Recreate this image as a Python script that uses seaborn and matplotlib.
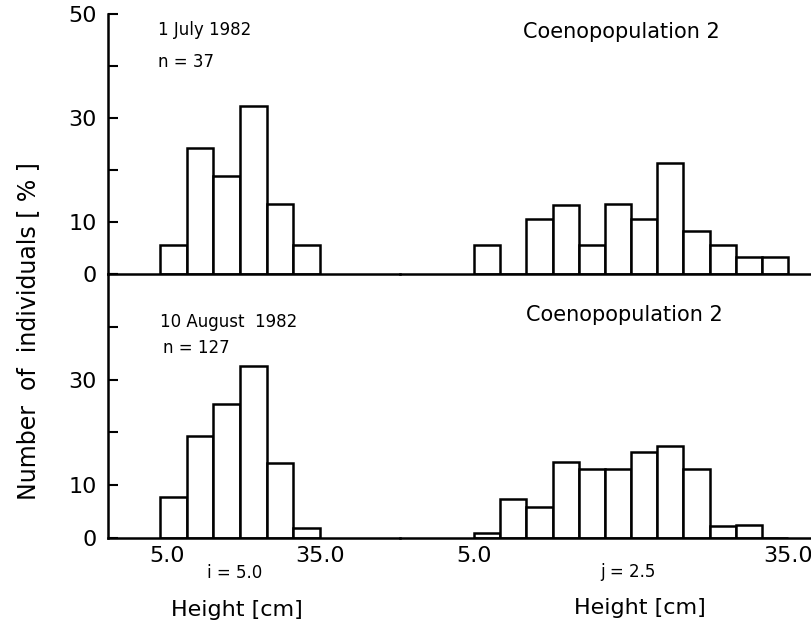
import numpy as np
import pandas as pd
import matplotlib
matplotlib.use("Agg")
import matplotlib.pyplot as plt
import matplotlib.transforms as mtransforms
import seaborn as sns

# ---------------- data (percent of individuals per height class) ----------------
# interval i = 5.0 cm (left histograms)
left_lower = [5.0, 10.0, 15.0, 20.0, 25.0, 30.0]
left_width = 5.0
july_left = [5.6, 24.2, 18.8, 32.4, 13.5, 5.6]
august_left = [7.7, 19.3, 25.4, 32.5, 14.2, 1.9]

# interval j = 2.5 cm (right histograms)
right_lower = [5.0, 7.5, 10.0, 12.5, 15.0, 17.5, 20.0, 22.5, 25.0, 27.5, 30.0, 32.5]
right_width = 2.5
july_right = [5.6, 0.0, 10.6, 13.2, 5.6, 13.4, 10.6, 21.4, 8.2, 5.6, 3.3, 3.3]
august_right = [1.0, 7.3, 5.9, 14.4, 13.0, 13.0, 16.3, 17.4, 13.1, 2.2, 2.4, 0.0]

y_ticks = [0, 10, 20, 30, 40, 50]
top_ytick_labels = ["0", "10", "", "30", "", "50"]
bottom_ytick_labels = ["0", "10", "", "30", "", ""]
x_tick_vals = [5.0, 35.0]
x_tick_labels = ["5.0", "35.0"]

# ---------------- style ----------------
sns.set_style("ticks", {"axes.edgecolor": "black", "text.color": "black",
                        "xtick.color": "black", "ytick.color": "black",
                        "axes.labelcolor": "black"})
plt.rcParams["font.family"] = ["DejaVu Sans"]
plt.rcParams["text.color"] = "black"

W, H = 812, 627
fig = plt.figure(figsize=(W / 100, H / 100), dpi=100)


def fx(px):
    return px / W


def fy(py):
    return 1 - py / H


LW = 1.8

rows = {
    "top": (14, 274),
    "bottom": (274, 538),
}
left_span = (108, 400)
right_span = (400, 812)


def make_ax(xspan, yspan):
    x0, x1 = xspan
    y0, y1 = yspan
    return fig.add_axes([fx(x0), fy(y1), fx(x1 - x0), (y1 - y0) / H])


def hist(ax, lower, width, vals):
    lower_arr = np.asarray(lower, dtype=float)
    edges = [float(v) for v in lower_arr] + [float(lower_arr[-1] + width)]
    df = pd.DataFrame({"height": lower_arr + width / 2,
                       "pct": np.asarray(vals, dtype=float)})
    sns.histplot(data=df, x="height", weights="pct", bins=edges, stat="count",
                 color="white", edgecolor="black", linewidth=LW, alpha=1,
                 ax=ax)


axes = {}
for row, yspan in rows.items():
    axl = make_ax(left_span, yspan)
    axr = make_ax(right_span, yspan)
    axes[row] = (axl, axr)

data = {
    "top": (july_left, july_right),
    "bottom": (august_left, august_right),
}

for row, (axl, axr) in axes.items():
    lvals, rvals = data[row]
    hist(axl, left_lower, left_width, lvals)
    hist(axr, right_lower, right_width, rvals)
    axl.set_xlim(5 - 52 / 5.33, 5 + 240 / 5.33)
    axr.set_xlim(5 - 74 / 10.47, 5 + 338 / 10.47)
    for ax in (axl, axr):
        ax.set_ylim(0, 50)
        ax.set_xlabel("")
        ax.set_ylabel("")
        ax.patch.set_alpha(0)
        for s in ("top", "right"):
            ax.spines[s].set_visible(False)
        ax.spines["bottom"].set_linewidth(LW)
        ax.spines["left"].set_linewidth(LW)
        ax.spines["bottom"].set_color("black")
        ax.spines["left"].set_color("black")
    axr.spines["left"].set_visible(False)
    axr.set_yticks([])
    axl.set_yticks(y_ticks)
    axl.set_yticklabels(top_ytick_labels if row == "top" else bottom_ytick_labels)
    axl.tick_params(axis="y", direction="in", length=7, width=1.5,
                    labelsize=16, pad=8, colors="black")
    if row == "bottom":
        for ax in (axl, axr):
            ax.set_xticks(x_tick_vals)
            ax.set_xticklabels(x_tick_labels)
            ax.tick_params(axis="x", length=0, labelsize=16, pad=6,
                           colors="black")
        # the reference prints the left "5.0" slightly right of its class edge
        lab = axl.get_xticklabels()[0]
        lab.set_transform(lab.get_transform() +
                          mtransforms.ScaledTranslation(7 / 100, 0,
                                                        fig.dpi_scale_trans))
    else:
        for ax in (axl, axr):
            ax.set_xticks([])

# ---------------- annotations ----------------
kw = dict(color="black")
fig.text(fx(158), fy(30), "1 July 1982", fontsize=12, va="center", ha="left", **kw)
fig.text(fx(158), fy(62), "n = 37", fontsize=12, va="center", ha="left", **kw)
fig.text(fx(523), fy(32), "Coenopopulation 2", fontsize=15, va="center",
         ha="left", **kw)

fig.text(fx(160), fy(322), "10 August  1982", fontsize=12, va="center",
         ha="left", **kw)
fig.text(fx(163), fy(348), "n = 127", fontsize=12, va="center", ha="left", **kw)
fig.text(fx(526), fy(315), "Coenopopulation 2", fontsize=15, va="center",
         ha="left", **kw)

fig.text(fx(235), fy(573), "i = 5.0", fontsize=12, va="center", ha="center", **kw)
fig.text(fx(628), fy(572), "j = 2.5", fontsize=12, va="center", ha="center", **kw)
fig.text(fx(237), fy(610), "Height [cm]", fontsize=16, va="center",
         ha="center", **kw)
fig.text(fx(640), fy(608), "Height [cm]", fontsize=16, va="center",
         ha="center", **kw)

fig.text(fx(28), fy(331), "Number  of  individuals [ % ]", fontsize=17,
         rotation=90, va="center", ha="center", **kw)

fig.savefig("out.png", dpi=100, facecolor="white")
